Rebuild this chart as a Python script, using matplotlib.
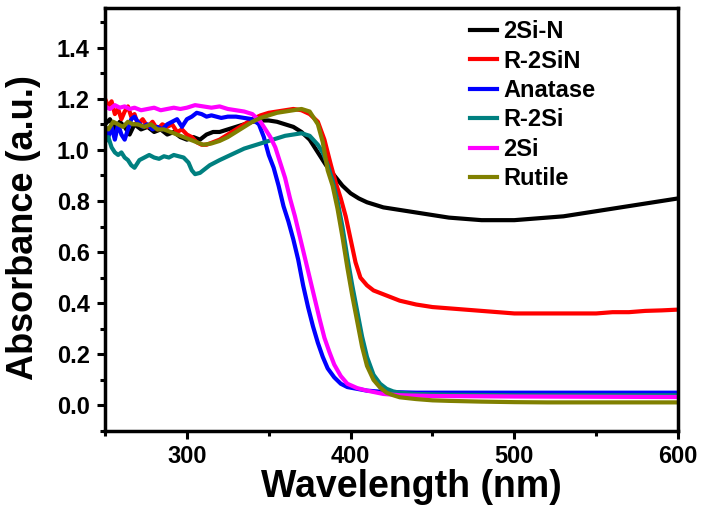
import matplotlib.pyplot as plt
from matplotlib.ticker import MultipleLocator

plt.rcParams['font.family'] = ['Liberation Sans', 'DejaVu Sans']
plt.rcParams['font.weight'] = 'bold'

# 2Si-N
wl_2sin = [250, 253, 256, 259, 262, 265, 268, 272, 276, 280, 284, 288, 292, 296, 300, 304, 308,
           312, 316, 320, 325, 330, 335, 340, 345, 350, 355, 360, 365, 370, 375, 380, 385, 390,
           395, 400, 405, 410, 420, 430, 440, 450, 460, 470, 480, 490, 500, 510, 520, 530, 540,
           550, 560, 570, 580, 590, 600]
abs_2sin = [1.10, 1.12, 1.08, 1.11, 1.09, 1.06, 1.10, 1.08, 1.09, 1.07, 1.08, 1.06, 1.07, 1.05,
            1.04, 1.05, 1.04, 1.06, 1.07, 1.07, 1.08, 1.09, 1.10, 1.11, 1.115, 1.115, 1.11, 1.10,
            1.09, 1.07, 1.04, 0.99, 0.94, 0.90, 0.86, 0.83, 0.81, 0.795, 0.775, 0.765, 0.755,
            0.745, 0.735, 0.73, 0.725, 0.725, 0.725, 0.73, 0.735, 0.74, 0.75, 0.76, 0.77, 0.78,
            0.79, 0.80, 0.81]

# R-2SiN
wl_r2sin = [250, 252, 254, 256, 258, 260, 262, 264, 266, 268, 270, 273, 276, 279, 282, 285, 288,
            291, 294, 297, 300, 303, 306, 309, 312, 316, 320, 325, 330, 335, 340, 345, 350, 355,
            360, 365, 370, 375, 380, 384, 388, 391, 394, 397, 400, 403, 406, 410, 414, 418, 422,
            426, 430, 440, 450, 460, 470, 480, 490, 500, 510, 520, 530, 540, 550, 560, 570, 580,
            590, 600]
abs_r2sin = [1.20, 1.17, 1.19, 1.14, 1.16, 1.12, 1.15, 1.17, 1.13, 1.14, 1.10, 1.12, 1.09, 1.11,
             1.08, 1.10, 1.09, 1.10, 1.07, 1.08, 1.06, 1.05, 1.03, 1.02, 1.02, 1.03, 1.04, 1.06,
             1.08, 1.10, 1.12, 1.135, 1.145, 1.15, 1.155, 1.16, 1.155, 1.14, 1.11, 1.04, 0.94,
             0.87, 0.81, 0.74, 0.65, 0.56, 0.50, 0.47, 0.45, 0.44, 0.43, 0.42, 0.41, 0.395, 0.385,
             0.38, 0.375, 0.37, 0.365, 0.36, 0.36, 0.36, 0.36, 0.36, 0.36, 0.365, 0.365, 0.37,
             0.372, 0.375]

# Anatase
wl_ana = [250, 252, 254, 256, 258, 260, 262, 264, 266, 268, 270, 273, 276, 279, 282, 285, 288,
          291, 294, 297, 300, 303, 306, 309, 312, 315, 318, 321, 325, 330, 335, 340, 344, 347,
          350, 353, 356, 359, 362, 365, 368, 371, 374, 377, 380, 383, 386, 390, 394, 398, 404,
          410, 420, 440, 460, 500, 550, 600]
abs_ana = [1.08, 1.05, 1.09, 1.04, 1.10, 1.06, 1.04, 1.08, 1.12, 1.13, 1.11, 1.09, 1.10, 1.08,
           1.09, 1.08, 1.10, 1.11, 1.12, 1.09, 1.12, 1.13, 1.145, 1.14, 1.13, 1.135, 1.13, 1.125,
           1.13, 1.13, 1.125, 1.12, 1.10, 1.05, 0.98, 0.93, 0.86, 0.78, 0.72, 0.65, 0.57, 0.47,
           0.385, 0.31, 0.245, 0.19, 0.145, 0.11, 0.085, 0.072, 0.065, 0.058, 0.053, 0.05, 0.05,
           0.05, 0.05, 0.05]

# R-2Si
wl_r2si = [250, 252, 254, 256, 258, 260, 262, 264, 266, 268, 271, 274, 277, 280, 283, 286, 289,
           292, 295, 298, 301, 303, 305, 308, 311, 314, 317, 320, 325, 330, 335, 340, 345, 350,
           355, 360, 365, 370, 375, 380, 383, 386, 389, 392, 395, 398, 401, 404, 407, 410, 414,
           418, 422, 426, 430, 440, 460, 500, 550, 600]
abs_r2si = [1.03, 1.05, 1.01, 0.99, 0.98, 0.99, 0.97, 0.96, 0.94, 0.93, 0.96, 0.97, 0.98, 0.97,
            0.965, 0.975, 0.97, 0.98, 0.975, 0.97, 0.95, 0.92, 0.905, 0.91, 0.925, 0.94, 0.95,
            0.96, 0.975, 0.99, 1.005, 1.015, 1.025, 1.035, 1.045, 1.055, 1.06, 1.065, 1.055, 1.02,
            0.99, 0.94, 0.88, 0.80, 0.70, 0.58, 0.47, 0.37, 0.27, 0.19, 0.12, 0.085, 0.065, 0.055,
            0.05, 0.045, 0.042, 0.04, 0.04, 0.04]

# 2Si
wl_2si = [250, 253, 256, 259, 262, 265, 268, 272, 276, 280, 284, 288, 292, 296, 300, 305, 310,
          315, 320, 325, 330, 335, 340, 345, 348, 351, 354, 357, 360, 363, 366, 369, 372, 375,
          378, 381, 384, 387, 390, 394, 398, 404, 410, 420, 430, 450, 500, 550, 600]
abs_2si = [1.17, 1.16, 1.175, 1.165, 1.17, 1.16, 1.165, 1.155, 1.16, 1.165, 1.155, 1.16, 1.165,
           1.16, 1.165, 1.175, 1.17, 1.165, 1.17, 1.16, 1.155, 1.15, 1.14, 1.11, 1.08, 1.05,
           1.01, 0.95, 0.89, 0.81, 0.74, 0.66, 0.58, 0.50, 0.42, 0.34, 0.265, 0.21, 0.16, 0.115,
           0.085, 0.068, 0.058, 0.045, 0.04, 0.037, 0.035, 0.034, 0.033]

# Rutile
wl_rut = [250, 252, 255, 258, 261, 264, 267, 270, 274, 278, 282, 286, 290, 294, 298, 302, 306,
          310, 315, 320, 325, 330, 335, 340, 345, 350, 355, 360, 365, 370, 375, 380, 383, 386,
          389, 392, 395, 398, 401, 404, 407, 410, 414, 418, 422, 426, 430, 440, 450, 460, 480,
          500, 520, 540, 560, 580, 600]
abs_rut = [1.09, 1.08, 1.11, 1.10, 1.09, 1.11, 1.10, 1.10, 1.09, 1.10, 1.08, 1.08, 1.07, 1.06,
           1.05, 1.04, 1.03, 1.02, 1.025, 1.035, 1.05, 1.07, 1.09, 1.11, 1.125, 1.135, 1.145,
           1.15, 1.155, 1.16, 1.15, 1.10, 1.03, 0.92, 0.86, 0.77, 0.66, 0.54, 0.43, 0.33, 0.23,
           0.155, 0.10, 0.07, 0.05, 0.04, 0.032, 0.025, 0.02, 0.018, 0.015, 0.013, 0.012, 0.012,
           0.012, 0.012, 0.012]

series = [
    (wl_2sin, abs_2sin, 'black', '2Si-N'),
    (wl_r2sin, abs_r2sin, '#ff0000', 'R-2SiN'),
    (wl_ana, abs_ana, '#0000ff', 'Anatase'),
    (wl_r2si, abs_r2si, '#008080', 'R-2Si'),
    (wl_2si, abs_2si, '#ff00ff', '2Si'),
    (wl_rut, abs_rut, '#808000', 'Rutile'),
]

fig = plt.figure(figsize=(7.03, 5.17), dpi=100)
ax = fig.add_axes([0.1494, 0.1663, 0.8151, 0.8182])

for x, y, c, lab in series:
    ax.plot(x, y, color=c, lw=3, label=lab)

ax.set_xlim(250, 600)
ax.set_ylim(-0.1, 1.555)
ax.xaxis.set_minor_locator(MultipleLocator(50))
ax.yaxis.set_minor_locator(MultipleLocator(0.1))
ax.set_xticks([300, 400, 500, 600])
ax.set_yticks([0.0, 0.2, 0.4, 0.6, 0.8, 1.0, 1.2, 1.4])
ax.set_yticklabels(['0.0', '0.2', '0.4', '0.6', '0.8', '1.0', '1.2', '1.4'])

for s in ax.spines.values():
    s.set_linewidth(2.5)
    s.set_zorder(5)

ax.tick_params(which='major', direction='out', length=6, width=2.2, labelsize=17)
ax.tick_params(axis='y', which='major', pad=5)
ax.tick_params(axis='x', which='major', pad=4)
ax.tick_params(which='minor', direction='out', length=3.5, width=2.2)
ax.tick_params(top=False, right=False, which='both')

ax.set_xlabel('Wavelength (nm)', fontsize=27, fontweight='bold')
ax.set_ylabel('Absorbance (a.u.)', fontsize=26, fontweight='bold')
ax.xaxis.set_label_coords(0.534, -0.09)
ax.yaxis.set_label_coords(-0.112, 0.48)

ax.legend(loc='upper left', bbox_to_anchor=(0.637, 0.971), frameon=False, fontsize=17,
          handlelength=1.15, handletextpad=0.25, labelspacing=0.27, borderaxespad=0, borderpad=0)

fig.savefig('out.png', dpi=100)
